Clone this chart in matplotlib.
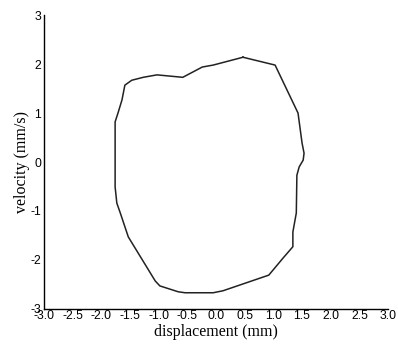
import matplotlib
matplotlib.use("Agg")
import matplotlib.pyplot as plt
import numpy as np

displacement = [0.47, 1.03, 1.43, 1.50, 1.535, 1.52, 1.45, 1.41, 1.40, 1.34, 1.34, 1.17, 0.92,
                0.12, -0.05, -0.54, -0.66, -0.98, -1.06, -1.53, -1.67, -1.73, -1.76, -1.76,
                -1.71, -1.64, -1.59, -1.47, -1.27, -1.03, -0.85, -0.58, -0.24, -0.05, 0.47]
velocity = [2.14, 1.98, 1.00, 0.39, 0.18, 0.04, -0.10, -0.27, -1.04, -1.43, -1.73, -1.96, -2.31,
            -2.63, -2.67, -2.67, -2.65, -2.53, -2.43, -1.53, -1.04, -0.84, -0.51, 0.82,
            1.00, 1.27, 1.57, 1.67, 1.73, 1.78, 1.76, 1.73, 1.94, 1.98, 2.14]
x_ticks = [-3.0, -2.5, -2.0, -1.5, -1.0, -0.5, 0.0, 0.5, 1.0, 1.5, 2.0, 2.5, 3.0]
y_ticks = [-3, -2, -1, 0, 1, 2, 3]

fig = plt.figure(figsize=(3.98, 3.44), dpi=100)
ax = fig.add_axes([0.1106, 0.102, 0.975 - 0.1106, 0.956 - 0.102])
ax.plot(displacement, velocity, color="#222222", lw=1.1)
ax.set_xlim(-3, 3)
ax.set_ylim(-3, 3)
ax.set_xticks(x_ticks)
ax.set_xticklabels([f"{t:.1f}" for t in x_ticks], fontfamily="Liberation Sans", fontsize=8.8)
ax.set_yticks(y_ticks)
ax.set_yticklabels([str(t) for t in y_ticks], fontfamily="Liberation Sans", fontsize=8.8)
ax.tick_params(axis="x", length=0, pad=0.5)
ax.tick_params(axis="y", length=0, pad=2)
for s in ["top", "right"]:
    ax.spines[s].set_visible(False)
for s in ["left", "bottom"]:
    ax.spines[s].set_linewidth(1.0)
    ax.spines[s].set_color("black")
ax.set_xlabel("displacement (mm)", fontfamily="Liberation Serif", fontsize=11.5, labelpad=2)
ax.set_ylabel("velocity (mm/s)", fontfamily="Liberation Serif", fontsize=11.5, labelpad=0)
fig.savefig("out.png", dpi=100)
